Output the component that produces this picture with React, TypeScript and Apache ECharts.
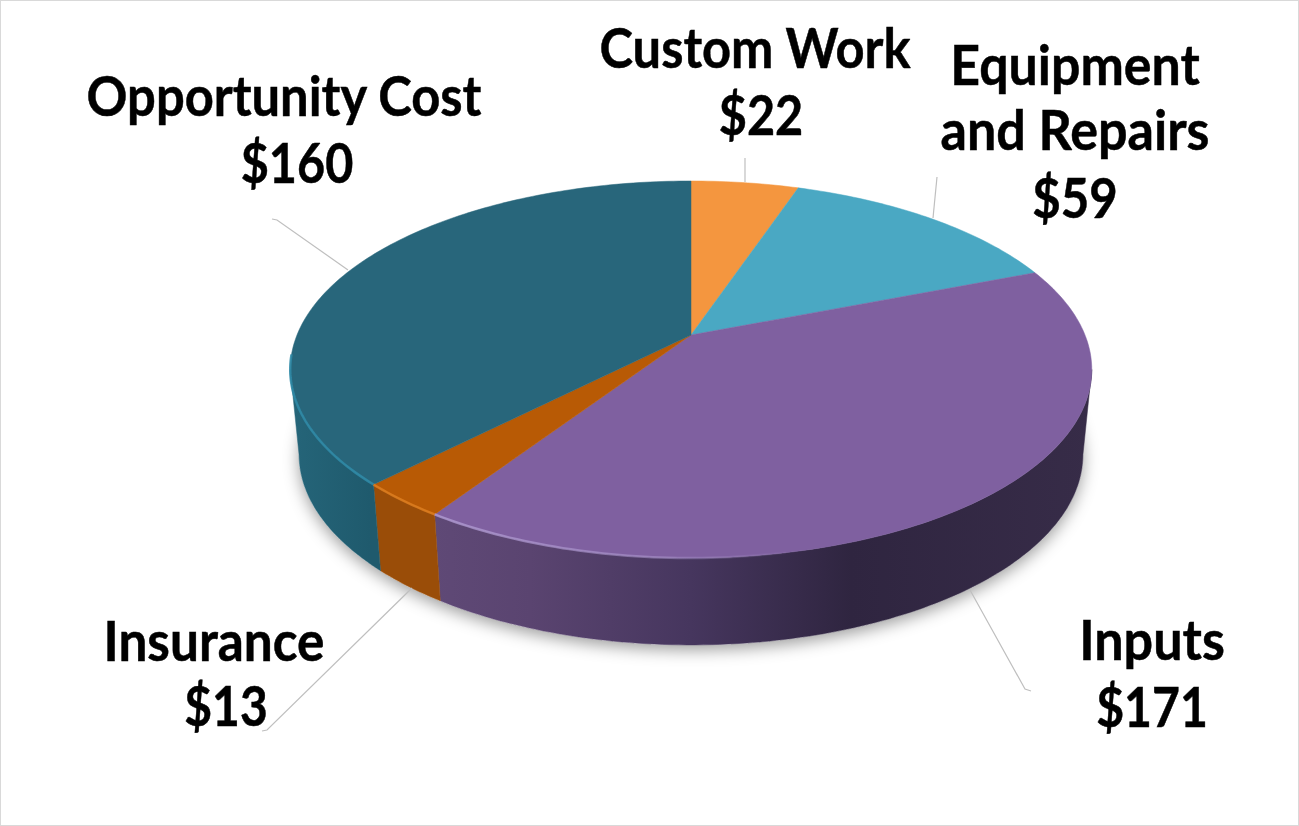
import React, { useEffect, useRef } from "react";
import * as echarts from "echarts";

const categories = ["Custom Work", "Equipment and Repairs", "Inputs", "Insurance", "Opportunity Cost"];
const costs = [22, 59, 171, 13, 160];
const labelLines = [
  "Custom Work",
  "$22",
  "Equipment",
  "and Repairs",
  "$59",
  "Inputs",
  "$171",
  "Insurance",
  "$13",
  "Opportunity Cost",
  "$160",
];

const faceColors = ["#f4963f", "#4aa8c3", "#7f60a0", "#b85a05", "#28667b"];
const wallStops: [number, string][][] = [
  [[0, "#c97a30"], [1, "#c97a30"]],
  [[0, "#3a8ba2"], [1, "#3a8ba2"]],
  [[0, "#66507f"], [0.3, "#5a4470"], [0.5, "#46365e"], [0.7, "#2f2540"], [1, "#372c48"]],
  [[0, "#9a4d08"], [1, "#9a4d08"]],
  [[0, "#256579"], [0.1, "#1f5a6d"], [1, "#1f5a6d"]],
];

// centre x, centre y, horizontal squeeze for each label line
const labelLayout: number[][] = [
  [755, 46, 0.904],
  [761, 113, 0.867],
  [1075, 63, 0.926],
  [1075, 129, 0.93],
  [1075, 196, 0.877],
  [1152, 639, 0.93],
  [1152, 705, 0.86],
  [214, 639, 0.917],
  [226, 705, 0.856],
  [284, 94, 0.905],
  [297, 161, 0.867],
];
const leaders: number[][][] = [
  [[745, 158], [745, 182]],
  [[937, 177], [933, 218]],
  [[970, 590], [1025, 689], [1031, 691]],
  [[412, 588], [267, 730], [262, 731]],
  [[272, 219], [277, 220], [348, 270]],
];

// perspective of the top disc
const CX = 691;
const K = 0.183;
const A = 335;
const B = -120.9;
const C = 394;
// angles at which the disc reaches its widest point on screen: the wall is only seen between them
const WALL_FROM = (Math.acos(-K) * 180) / Math.PI;
const WALL_TO = 360 - WALL_FROM;

const top = (deg: number): number[] => {
  const r = (deg * Math.PI) / 180;
  const u = Math.sin(r);
  const v = Math.cos(r);
  const w = 1 + K * v;
  return [CX + (C * u) / w, (A + B * v) / w];
};
const bottom = (deg: number): number[] => {
  const [x, y] = top(deg);
  return [CX + (x - CX) * 0.978, y * 1.0106 + 81];
};
const arc = (f: (d: number) => number[], a: number, b: number): number[][] => {
  const n = Math.max(2, Math.ceil(Math.abs(b - a)));
  const out: number[][] = [];
  for (let i = 0; i <= n; i++) out.push(f(a + ((b - a) * i) / n));
  return out;
};

const total = costs.reduce((s, v) => s + v, 0);
const angleRange = (i: number): [number, number] => {
  let sum = 0;
  for (let k = 0; k < i; k++) sum += costs[k];
  return [(sum / total) * 360, ((sum + costs[i]) / total) * 360];
};

const hGrad = (stops: [number, string][], x0 = 290, x1 = 1092) => ({
  type: "linear",
  x: x0,
  y: 0,
  x2: x1,
  y2: 0,
  global: true,
  colorStops: stops.map(([offset, color]) => ({ offset, color })),
});

export default function App() {
  const ref = useRef<HTMLDivElement>(null);
  useEffect(() => {
    const chart = echarts.init(ref.current!, null, { renderer: "svg" });
    const data = costs.map((v, i) => ({ name: categories[i], value: v }));
    chart.setOption({
      animation: false,
      backgroundColor: "#ffffff",
      graphic: [
        {
          type: "rect",
          shape: { x: 0, y: 0, width: 1299, height: 826 },
          style: { fill: "none", stroke: "#d9d9d9", lineWidth: 2 },
          silent: true,
        },
      ],
      series: [
        {
          type: "custom",
          name: "base",
          coordinateSystem: "none",
          z: 1,
          data: [0],
          renderItem: () => ({
            type: "polygon",
            shape: { points: arc(bottom, 0, 360) },
            style: {
              fill: "#ffffff",
              shadowBlur: 16,
              shadowColor: "rgba(0,0,0,0.38)",
              shadowOffsetY: 5,
            },
          }),
        },
        {
          type: "custom",
          name: "walls",
          coordinateSystem: "none",
          z: 2,
          data,
          renderItem: (p: any) => {
            const [a0, b0] = angleRange(p.dataIndex);
            const a = Math.max(a0, WALL_FROM);
            const b = Math.min(b0, WALL_TO);
            if (b <= a) return null;
            const fill = hGrad(wallStops[p.dataIndex]);
            return {
              type: "polygon",
              shape: { points: [...arc(top, a, b), ...arc(bottom, b, a)] },
              style: { fill, stroke: fill, lineWidth: 0.5 },
            };
          },
        },
        {
          type: "custom",
          name: "faces",
          coordinateSystem: "none",
          z: 3,
          data,
          renderItem: (p: any) => {
            const [a, b] = angleRange(p.dataIndex);
            const c = faceColors[p.dataIndex];
            return {
              type: "polygon",
              shape: { points: [[CX, A], ...arc(top, a, b)] },
              style: { fill: c, stroke: c, lineWidth: 0.5 },
            };
          },
        },
        {
          type: "custom",
          name: "rim",
          coordinateSystem: "none",
          z: 4,
          data: [0, 1, 2],
          renderItem: (p: any) => {
            const i = p.dataIndex;
            const ins = angleRange(3);
            const op = angleRange(4);
            const inp = angleRange(2);
            const segs = [
              { pts: arc(top, op[0], 264), stroke: "#2f8ba8", w: 2.5 },
              { pts: arc(top, ins[0], ins[1]), stroke: "#dd7e20", w: 2.5 },
              {
                pts: arc(top, inp[0] + 100, inp[1]),
                stroke: hGrad(
                  [
                    [0, "rgba(176,155,210,0.95)"],
                    [0.6, "rgba(176,155,210,0.6)"],
                    [1, "rgba(176,155,210,0)"],
                  ],
                  436,
                  800
                ),
                w: 2.5,
              },
            ];
            const s = segs[i];
            return {
              type: "polyline",
              shape: { points: s.pts },
              style: { fill: "none", stroke: s.stroke, lineWidth: s.w, opacity: 0.85 },
            };
          },
        },
        {
          type: "custom",
          name: "leaders",
          coordinateSystem: "none",
          z: 5,
          data: leaders.map((_, i) => i),
          renderItem: (p: any) => ({
            type: "polyline",
            shape: { points: leaders[p.dataIndex] },
            style: { fill: "none", stroke: "#bfbfbf", lineWidth: 1.2 },
          }),
        },
        {
          type: "custom",
          name: "labels",
          coordinateSystem: "none",
          z: 6,
          data: labelLines.map((_, i) => i),
          renderItem: (p: any) => {
            const [x, y, sx] = labelLayout[p.dataIndex];
            return {
              type: "text",
              x,
              y,
              scaleX: sx,
              style: {
                text: labelLines[p.dataIndex],
                fill: "#000000",
                stroke: "#000000",
                lineWidth: 0.5,
                fontFamily: "Lato",
                fontWeight: 700,
                fontSize: 56,
                align: "center",
                verticalAlign: "middle",
              },
            };
          },
        },
      ],
    });
    return () => chart.dispose();
  }, []);
  return (
    <div
      ref={ref}
      style={{ position: "fixed", left: 0, top: 0, width: 1299, height: 826 }}
    />
  );
}
